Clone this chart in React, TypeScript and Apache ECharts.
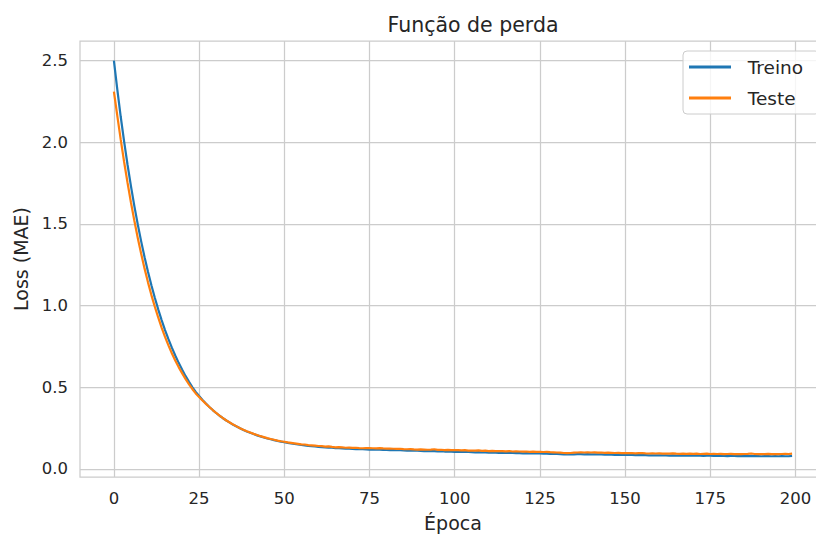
import React, { useEffect, useRef } from "react";
import * as echarts from "echarts";

const epochs: number[] = Array.from({ length: 200 }, (_, i) => i);

const treino: number[] = [
  2.500, 2.322, 2.156, 2.004, 1.862, 1.731, 1.609, 1.497, 1.393, 1.296,
  1.207, 1.124, 1.048, 0.977, 0.911, 0.850, 0.794, 0.742, 0.694, 0.649,
  0.608, 0.569, 0.534, 0.501, 0.471, 0.446, 0.422, 0.400, 0.379, 0.360,
  0.342, 0.325, 0.310, 0.296, 0.283, 0.270, 0.259, 0.248, 0.238, 0.229,
  0.221, 0.213, 0.205, 0.199, 0.192, 0.186, 0.181, 0.176, 0.171, 0.167,
  0.163, 0.159, 0.155, 0.152, 0.149, 0.146, 0.144, 0.141, 0.139, 0.137,
  0.135, 0.133, 0.132, 0.130, 0.129, 0.127, 0.126, 0.125, 0.124, 0.123,
  0.122, 0.121, 0.120, 0.120, 0.119, 0.118, 0.118, 0.117, 0.117, 0.116,
  0.116, 0.115, 0.115, 0.114, 0.114, 0.113, 0.112, 0.112, 0.111, 0.111,
  0.110, 0.109, 0.110, 0.108, 0.108, 0.107, 0.107, 0.106, 0.106, 0.105,
  0.104, 0.105, 0.104, 0.103, 0.103, 0.102, 0.101, 0.102, 0.100, 0.100,
  0.099, 0.100, 0.099, 0.098, 0.098, 0.097, 0.098, 0.097, 0.096, 0.096,
  0.095, 0.096, 0.095, 0.094, 0.095, 0.094, 0.093, 0.093, 0.092, 0.092,
  0.091, 0.090, 0.089, 0.088, 0.088, 0.089, 0.090, 0.090, 0.089, 0.090,
  0.089, 0.089, 0.088, 0.088, 0.087, 0.088, 0.087, 0.086, 0.086, 0.085,
  0.085, 0.086, 0.085, 0.084, 0.084, 0.085, 0.084, 0.083, 0.083, 0.082,
  0.083, 0.082, 0.082, 0.081, 0.082, 0.081, 0.081, 0.080, 0.081, 0.080,
  0.080, 0.081, 0.080, 0.079, 0.080, 0.080, 0.079, 0.079, 0.080, 0.079,
  0.078, 0.079, 0.079, 0.078, 0.079, 0.078, 0.078, 0.079, 0.078, 0.078,
  0.077, 0.078, 0.078, 0.077, 0.078, 0.077, 0.078, 0.077, 0.077, 0.079,
];

const teste: number[] = [
  2.310, 2.162, 2.016, 1.879, 1.752, 1.631, 1.519, 1.414, 1.317, 1.226,
  1.142, 1.064, 0.993, 0.927, 0.865, 0.808, 0.756, 0.708, 0.664, 0.623,
  0.586, 0.551, 0.519, 0.489, 0.462, 0.440, 0.418, 0.398, 0.379, 0.360,
  0.342, 0.326, 0.311, 0.296, 0.284, 0.271, 0.260, 0.249, 0.239, 0.230,
  0.222, 0.214, 0.207, 0.200, 0.194, 0.188, 0.183, 0.178, 0.173, 0.169,
  0.166, 0.162, 0.159, 0.156, 0.153, 0.150, 0.149, 0.145, 0.144, 0.142,
  0.140, 0.139, 0.136, 0.137, 0.134, 0.132, 0.133, 0.131, 0.129, 0.130,
  0.128, 0.129, 0.127, 0.126, 0.127, 0.127, 0.126, 0.125, 0.127, 0.125,
  0.124, 0.124, 0.123, 0.122, 0.123, 0.121, 0.120, 0.121, 0.119, 0.118,
  0.119, 0.118, 0.117, 0.118, 0.120, 0.116, 0.117, 0.115, 0.116, 0.115,
  0.114, 0.115, 0.113, 0.114, 0.112, 0.111, 0.112, 0.113, 0.110, 0.111,
  0.109, 0.110, 0.108, 0.109, 0.108, 0.107, 0.109, 0.106, 0.107, 0.106,
  0.105, 0.106, 0.104, 0.105, 0.104, 0.104, 0.103, 0.104, 0.102, 0.101,
  0.100, 0.099, 0.097, 0.096, 0.097, 0.099, 0.100, 0.101, 0.100, 0.101,
  0.100, 0.101, 0.099, 0.100, 0.098, 0.099, 0.098, 0.097, 0.098, 0.096,
  0.097, 0.096, 0.097, 0.095, 0.096, 0.097, 0.095, 0.094, 0.095, 0.094,
  0.095, 0.093, 0.094, 0.093, 0.095, 0.093, 0.092, 0.093, 0.092, 0.093,
  0.092, 0.093, 0.091, 0.092, 0.093, 0.091, 0.092, 0.091, 0.092, 0.090,
  0.091, 0.092, 0.090, 0.091, 0.090, 0.091, 0.092, 0.094, 0.091, 0.090,
  0.091, 0.090, 0.092, 0.090, 0.091, 0.090, 0.091, 0.092, 0.091, 0.093,
];

const xTicks: number[] = [0, 25, 50, 75, 100, 125, 150, 175, 200];
const yTicks: number[] = [0, 0.5, 1.0, 1.5, 2.0, 2.5];

const FONT = "DejaVu Sans";
const TEXT = "#262626";
const GRID = "#cccccc";

export default function App() {
  const ref = useRef<HTMLDivElement>(null);
  useEffect(() => {
    document.body.style.margin = "0";
    if (!ref.current) return;
    const chart = echarts.init(ref.current, undefined, { renderer: "svg" });
    chart.setOption({
      animation: false,
      backgroundColor: "#ffffff",
      textStyle: { fontFamily: FONT, color: TEXT },
      title: {
        text: "Função de perda",
        left: 468,
        top: 9,
        textAlign: "center",
        textStyle: { fontFamily: FONT, fontSize: 20.5, fontWeight: "normal", color: TEXT },
      },
      legend: {
        orient: "vertical",
        left: 683,
        top: 51,
        padding: [6, 16, 6, 6],
        itemWidth: 42,
        itemHeight: 3,
        itemGap: 11,
        icon: "rect",
        backgroundColor: "rgba(255,255,255,0.8)",
        borderColor: GRID,
        borderWidth: 1,
        borderRadius: 4,
        formatter: (n: string) => "  " + n,
        textStyle: { fontFamily: FONT, fontSize: 18.5, color: TEXT, lineHeight: 20 },
        data: ["Treino", "Teste"],
      },
      grid: {
        left: 80,
        top: 41,
        width: 746,
        height: 436,
        show: true,
        borderColor: GRID,
        borderWidth: 1.25,
        containLabel: false,
        outerBoundsMode: "none",
      },
      xAxis: {
        type: "value",
        min: -9.95,
        max: 208.95,
        name: "Época",
        nameLocation: "middle",
        nameGap: 36,
        nameTextStyle: { fontFamily: FONT, fontSize: 19, color: TEXT },
        axisLine: { show: false },
        axisTick: { show: false, customValues: xTicks },
        axisLabel: {
          customValues: xTicks,
          fontFamily: FONT,
          fontSize: 16.5,
          color: TEXT,
          margin: 13,
        },
        splitLine: { show: true, lineStyle: { color: GRID, width: 1.25 } },
      },
      yAxis: {
        type: "value",
        min: -0.05,
        max: 2.62,
        name: "Loss (MAE)",
        nameLocation: "middle",
        nameGap: 50,
        nameTextStyle: { fontFamily: FONT, fontSize: 19, color: TEXT },
        axisLine: { show: false },
        axisTick: { show: false, customValues: yTicks },
        axisLabel: {
          customValues: yTicks,
          fontFamily: FONT,
          fontSize: 16.5,
          color: TEXT,
          margin: 12,
          formatter: (v: number) => v.toFixed(1),
        },
        splitLine: { show: true, lineStyle: { color: GRID, width: 1.25 } },
      },
      series: [
        {
          name: "Treino",
          type: "line",
          data: epochs.map((e, i) => [e, treino[i]]),
          showSymbol: false,
          symbol: "none",
          lineStyle: { color: "#1f77b4", width: 2.2 },
          itemStyle: { color: "#1f77b4" },
        },
        {
          name: "Teste",
          type: "line",
          data: epochs.map((e, i) => [e, teste[i]]),
          showSymbol: false,
          symbol: "none",
          lineStyle: { color: "#ff7f0e", width: 2.2 },
          itemStyle: { color: "#ff7f0e" },
        },
      ],
    });
    return () => chart.dispose();
  }, []);
  return <div ref={ref} style={{ width: 816, height: 534 }} />;
}
